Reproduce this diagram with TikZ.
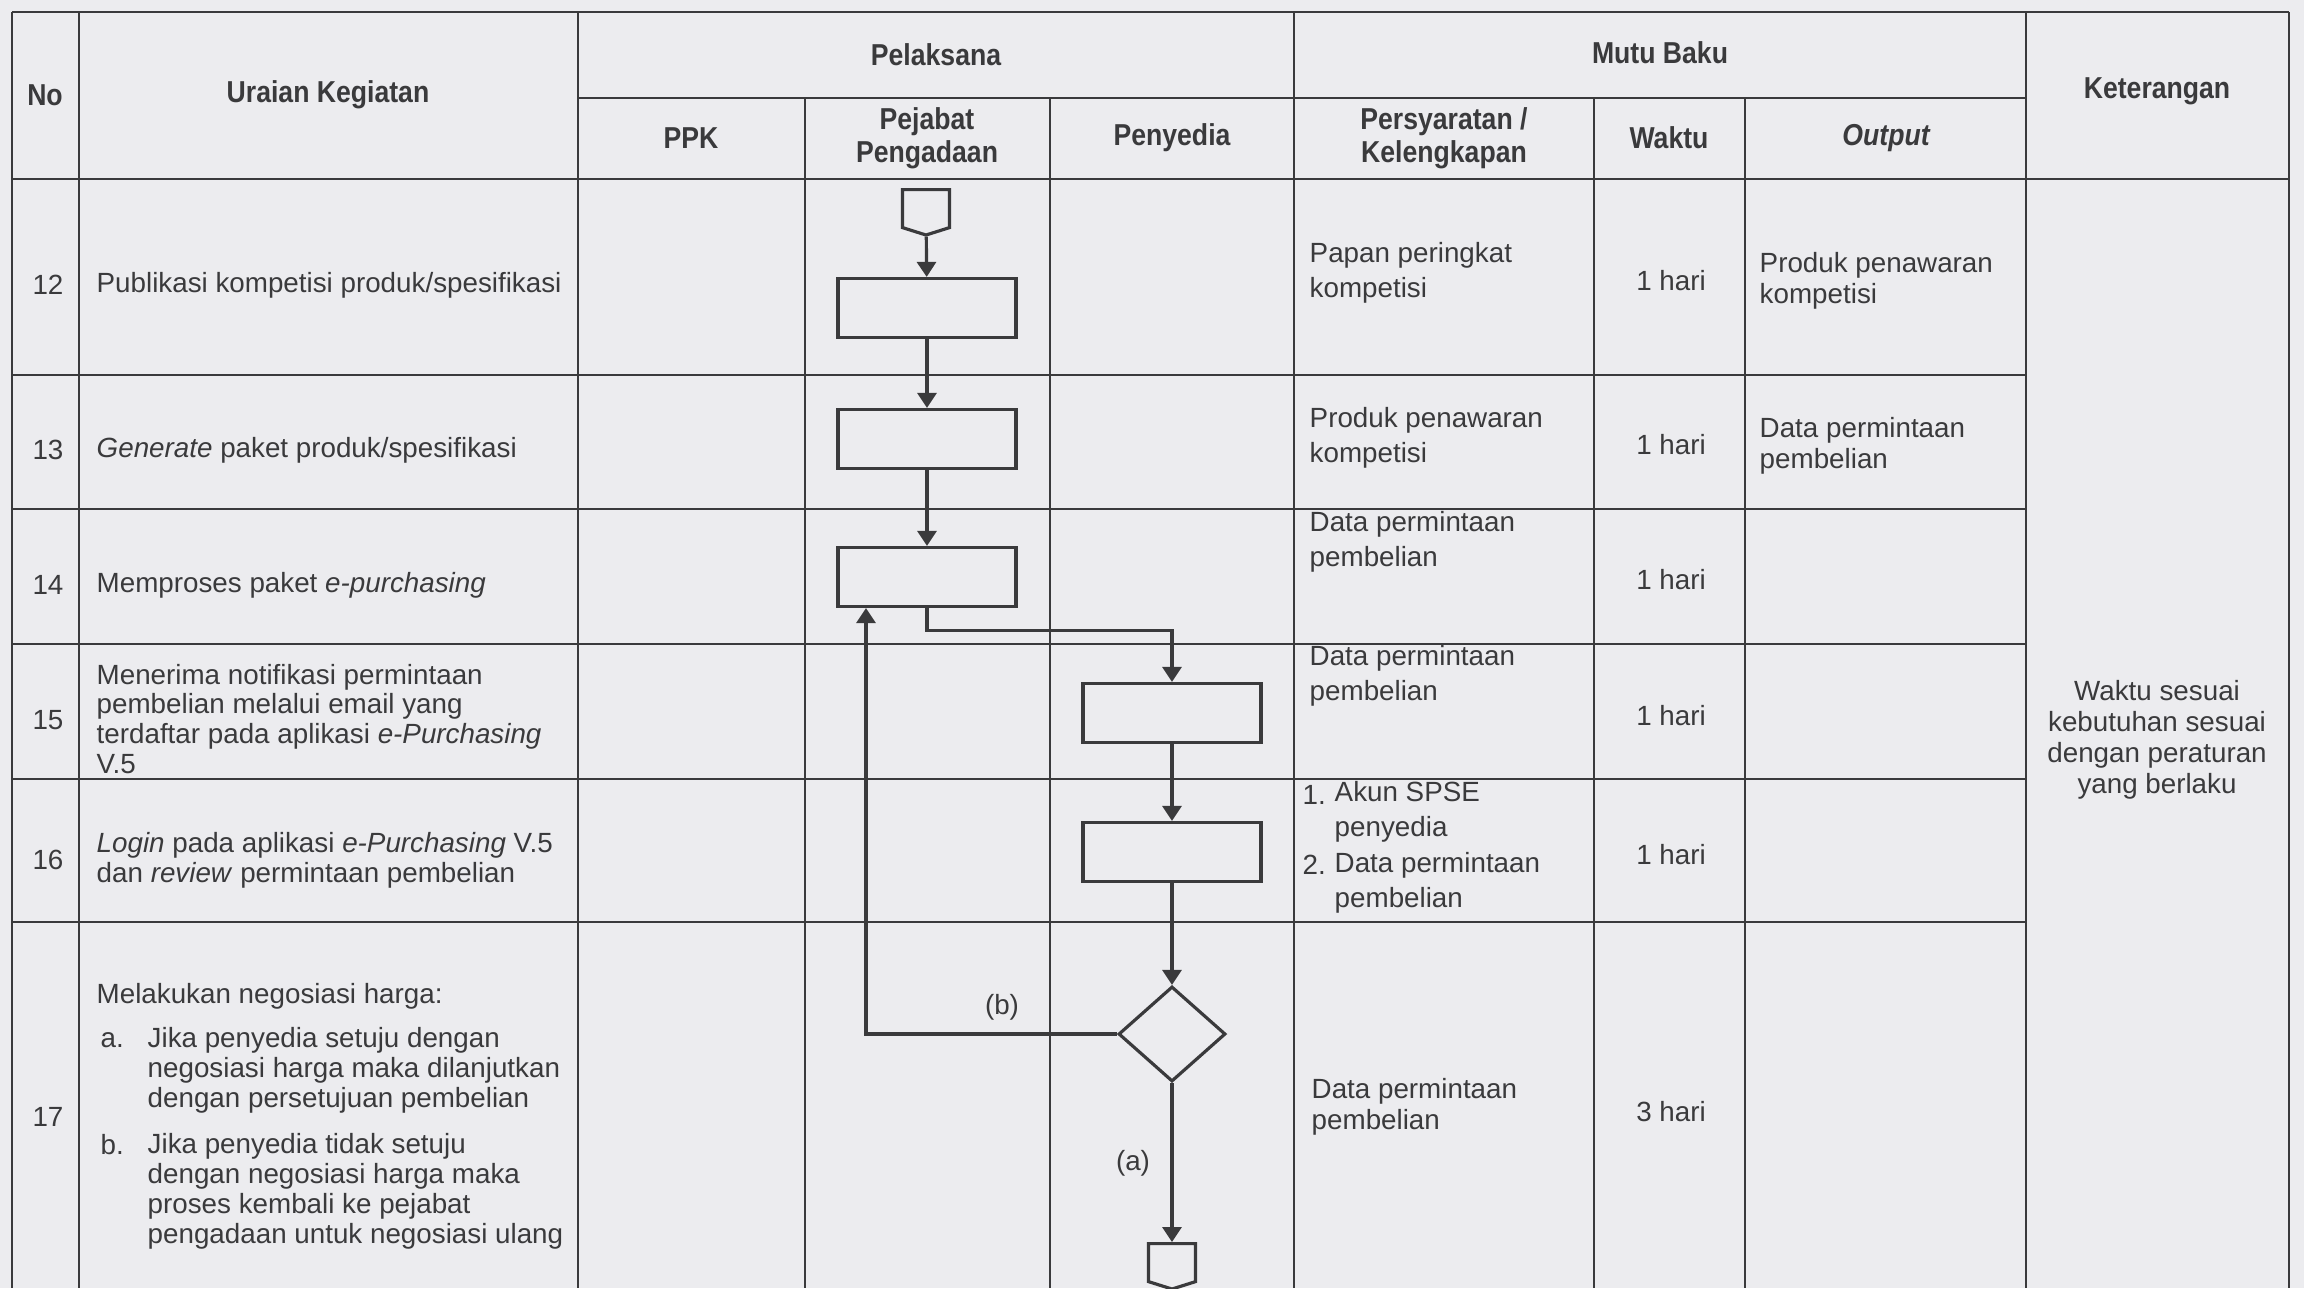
\documentclass[tikz,border=0pt]{standalone}
\usepackage{fontspec}
\setmainfont{Liberation Sans}
\newfontfamily\headfont[FakeStretch=0.88]{Liberation Sans}
\usetikzlibrary{arrows.meta,calc,shapes.geometric,shapes.symbols}

\definecolor{ink}{RGB}{58,58,60}
\definecolor{paper}{RGB}{236,236,239}
\tikzset{
	grid/.style={draw=ink,line width=0.55pt},
	cell/.style={text=ink,font=\fontsize{7.9}{8.5}\selectfont,align=left,inner sep=0pt},
	roomy/.style={cell,font=\fontsize{7.9}{10}\selectfont},
	loose/.style={cell,font=\fontsize{7.9}{8.8}\selectfont},
	head/.style={text=ink,font=\headfont\fontsize{8.6}{9.4}\selectfont\bfseries,align=center,inner sep=0pt},
	proc/.style={draw=ink,line width=0.9pt,minimum width=1.78cm,minimum height=0.59cm,inner sep=0pt},
	decide/.style={draw=ink,line width=0.9pt,diamond,minimum width=1.07cm,minimum height=0.95cm,inner sep=0pt},
	offpage/.style={draw=ink,line width=0.9pt,signal,signal to=south,signal pointer angle=145,
		minimum width=0.47cm,minimum height=0.38cm,inner sep=0pt},
	flow/.style={draw=ink,line width=0.9pt,-{Triangle[width=0.19cm,length=0.15cm]}},
}

\begin{document}
\begin{tikzpicture}[x=0.01cm,y=-0.01cm]
	\useasboundingbox (0,0) rectangle (2304,1288);
	\fill[paper] (0,0) rectangle (2304,1288);
	% table lines
	\foreach \x/\t in {12/12,79/12,578/12,805/98,1050/98,1294/12,1594/98,1745/98,2026/12,2289/12}
		\draw[grid] (\x,\t) -- (\x,1288);
	\draw[grid] (12,12) -- (2289,12) (578,98) -- (2026,98) (12,179) -- (2289,179);
	\foreach \y in {375,509,644,779,922}
		\draw[grid] (12,\y) -- (2026,\y);

	% header
	\node[head] (hno) at (45,95) {No};
	\node[head] (hur) at (328,95) {Uraian Kegiatan};
	\node[head] (hpel) at (936,55) {Pelaksana};
	\node[head] (hmut) at (1660,53) {Mutu Baku};
	\node[head] (hket) at (2157,91) {Keterangan};
	\node[head] (hppk) at (691,138) {PPK};
	\node[head] (hpp) at (927,138) {Pejabat\\Pengadaan};
	\node[head] (hpen) at (1172,138) {Penyedia};
	\node[head] (hsyr) at (1444,138) {Persyaratan /\\Kelengkapan};
	\node[head] (hwkt) at (1669,138) {Waktu};
	\node[head] (hout) at (1886,138) {\itshape Output};

	% nomor dan waktu
	\foreach \n/\y in {12/285,13/450,14/585,15/720,16/860,17/1117}
		\node[cell] (no\n) at (48,\y) {\n};
	\foreach \n/\y/\d in {12/281/1,13/445/1,14/580/1,15/716/1,16/855/1,17/1112/3}
		\node[cell] (w\n) at (1671,\y) {\d{} hari};

	% uraian kegiatan
	\node[cell,anchor=west] (u12) at (96,285) {Publikasi kompetisi produk/spesifikasi};
	\node[cell,anchor=west] (u13) at (96,450) {\textit{Generate} paket produk/spesifikasi};
	\node[cell,anchor=west] (u14) at (96,585) {Memproses paket \textit{e-purchasing}};
	\node[cell,anchor=west] (u15) at (96,719) {Menerima notifikasi permintaan\\pembelian melalui email yang\\terdaftar pada aplikasi \textit{e-Purchasing}\\V.5};
	\node[cell,anchor=west] (u16) at (96,860) {\textit{Login} pada aplikasi \textit{e-Purchasing} V.5\\dan \textit{review} permintaan pembelian};
	\node[cell,anchor=west] (u17) at (96,996) {Melakukan negosiasi harga:};
	\node[cell,anchor=west] (u17a) at (100,1040) {a.};
	\node[cell,anchor=west] (u17at) at (147,1070) {Jika penyedia setuju dengan\\negosiasi harga maka dilanjutkan\\dengan persetujuan pembelian};
	\node[cell,anchor=west] (u17b) at (100,1145) {b.};
	\node[cell,anchor=west] (u17bt) at (147,1191) {Jika penyedia tidak setuju\\dengan negosiasi harga maka\\proses kembali ke pejabat\\pengadaan untuk negosiasi ulang};

	% persyaratan / kelengkapan
	\node[roomy,anchor=west] (s12) at (1309,273) {Papan peringkat\\kompetisi};
	\node[roomy,anchor=west] (s13) at (1309,438) {Produk penawaran\\kompetisi};
	\node[roomy,anchor=west] (s14) at (1309,542) {Data permintaan\\pembelian};
	\node[roomy,anchor=west] (s15) at (1309,676) {Data permintaan\\pembelian};
	\node[roomy,anchor=west] (s16a) at (1302,795) {1.};
	\node[roomy,anchor=west] (s16at) at (1334,812) {Akun SPSE\\penyedia};
	\node[roomy,anchor=west] (s16b) at (1302,865) {2.};
	\node[roomy,anchor=west] (s16bt) at (1334,883) {Data permintaan\\pembelian};
	\node[loose,anchor=west] (s17) at (1311,1107) {Data permintaan\\pembelian};

	% output dan keterangan
	\node[loose,anchor=west] (o12) at (1759,281) {Produk penawaran\\kompetisi};
	\node[loose,anchor=west] (o13) at (1759,446) {Data permintaan\\pembelian};
	\node[loose,align=center] (ket) at (2157,740) {Waktu sesuai\\kebutuhan sesuai\\dengan peraturan\\yang berlaku};

	% alur
	\node[offpage,anchor=north] (in) at (926,188) {};
	\node[proc] (p12) at (927,308) {};
	\node[proc] (p13) at (927,439) {};
	\node[proc] (p14) at (927,577) {};
	\node[proc] (p15) at (1172,713) {};
	\node[proc] (p16) at (1172,852) {};
	\node[decide] (dec) at (1172,1034) {};
	\node[offpage,anchor=north] (out) at (1172,1242) {};
	\node[cell] (lb) at (1002,1007) {(b)};
	\node[cell] (la) at (1133,1163) {(a)};
	\draw[flow] (in) -- (p12);
	\draw[flow] (p12) -- (p13);
	\draw[flow] (p13) -- (p14);
	\draw[flow] (p14.south) -- ++(0,22) -| (p15.north);
	\draw[flow] (p15) -- (p16);
	\draw[flow] (p16) -- (dec);
	\draw[flow] (dec.west) -| ([xshift=-0.61cm]p14.south);
	\draw[flow] (dec) -- (out);
\end{tikzpicture}
\end{document}
